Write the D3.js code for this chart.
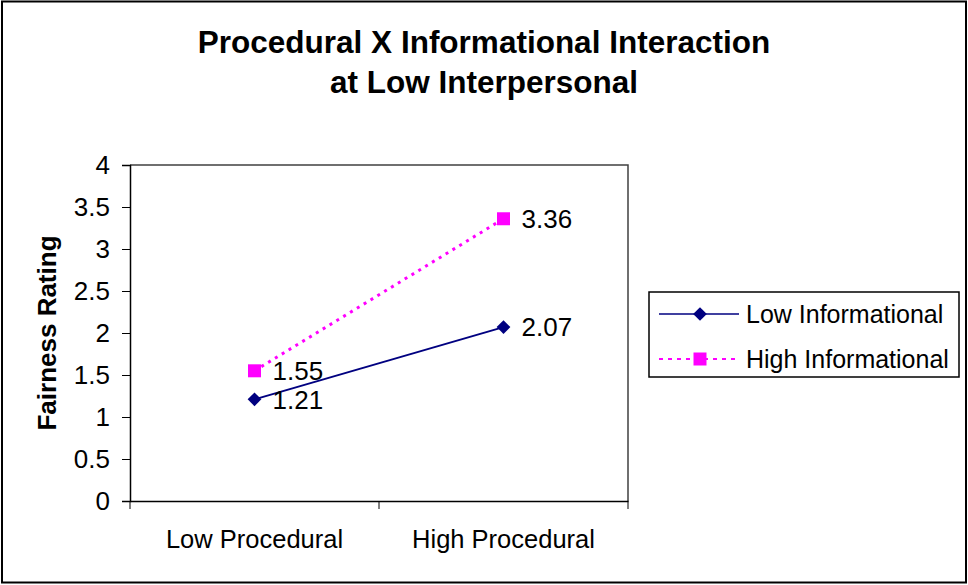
<!DOCTYPE html>
<html>
<head>
<meta charset="utf-8">
<script src="https://cdn.jsdelivr.net/npm/d3@7"></script>
<style>
  body { margin: 0; background: #fff; }
  text { font-family: "Liberation Sans", Arial, sans-serif; fill: #000; }
</style>
</head>
<body>
<svg class="chart"></svg>
<script>
// chart data
var categories = ['Low Procedural', 'High Procedural'];
var lowInformational = [1.21, 2.07];
var highInformational = [1.55, 3.36];
var yTicks = [0, 0.5, 1, 1.5, 2, 2.5, 3, 3.5, 4];

var series = [
    { name: 'Low Informational', values: lowInformational, color: '#000080', dash: null, marker: 'diamond' },
    { name: 'High Informational', values: highInformational, color: '#ff00ff', dash: '3,5', marker: 'square' }
];

var W = 968, H = 585;
var plot = { left: 130, top: 165, right: 628, bottom: 501 };
var fontFamily = '"Liberation Sans", Arial, sans-serif';

var svg = d3.select('.chart').attr('width', W).attr('height', H);

// outer chart border
svg.append('rect')
    .attr('x', 2).attr('y', 1.5)
    .attr('width', W - 4).attr('height', H - 4)
    .attr('fill', '#fff').attr('stroke', '#000').attr('stroke-width', 2);

// title
svg.append('text').attr('x', 484).attr('y', 53).attr('text-anchor', 'middle')
    .style('font-size', '31.5px').style('font-weight', 'bold')
    .text('Procedural X Informational Interaction');
svg.append('text').attr('x', 484).attr('y', 93).attr('text-anchor', 'middle')
    .style('font-size', '31.5px').style('font-weight', 'bold')
    .text('at Low Interpersonal');

// scales
var x = d3.scaleBand().domain(categories).range([plot.left, plot.right]);
var y = d3.scaleLinear().domain([0, 4]).range([plot.bottom, plot.top]);

// plot area border (top and right)
svg.append('path')
    .attr('d', 'M' + plot.left + ',' + plot.top + 'H' + plot.right + 'V' + plot.bottom)
    .attr('fill', 'none').attr('stroke', '#404040').attr('stroke-width', 1.5);

// y axis
var yAxis = d3.axisLeft(y).tickValues(yTicks).tickSize(8).tickPadding(12)
    .tickFormat(function (d) { return d3.format('')(d); });
var gy = svg.append('g').attr('transform', 'translate(' + plot.left + ',0)').call(yAxis);
gy.select('.domain').attr('stroke', '#000').attr('stroke-width', 1.5);
gy.selectAll('.tick line').attr('stroke', '#000');
gy.selectAll('.tick text').style('font-size', '26px').style('font-family', fontFamily);

// x axis with category divider ticks
var xAxis = d3.axisBottom(x).tickSize(0).tickPadding(29);
var gx = svg.append('g').attr('transform', 'translate(0,' + plot.bottom + ')').call(xAxis);
gx.select('.domain').attr('stroke', '#000').attr('stroke-width', 1.5);
gx.selectAll('.tick text').style('font-size', '25.5px').style('font-family', fontFamily);
var bounds = [x.range()[0]].concat(categories.map(function (c) { return x(c) + x.bandwidth(); }));
gx.selectAll('.divider').data(bounds).enter().append('line')
    .attr('x1', function (d) { return d; }).attr('x2', function (d) { return d; })
    .attr('y1', 0).attr('y2', 8)
    .attr('stroke', '#000');

// y axis title
svg.append('text')
    .attr('transform', 'translate(56,333) rotate(-90)')
    .attr('text-anchor', 'middle')
    .style('font-size', '26px').style('font-weight', 'bold')
    .text('Fairness Rating');

var cx = function (i) { return x(categories[i]) + x.bandwidth() / 2; };

var line = d3.line()
    .x(function (d, i) { return cx(i); })
    .y(function (d) { return y(d); });

var markerPath = function (m) {
    return m === 'diamond'
        ? d3.symbol().type(d3.symbolDiamond2).size(120)()
        : d3.symbol().type(d3.symbolSquare).size(169)();
};

series.forEach(function (s) {
    svg.append('path')
        .datum(s.values)
        .attr('d', line)
        .attr('fill', 'none')
        .attr('stroke', s.color)
        .attr('stroke-width', s.dash ? 3 : 2)
        .attr('stroke-dasharray', s.dash);

    svg.selectAll('.pt-' + s.marker).data(s.values).enter().append('path')
        .attr('d', markerPath(s.marker))
        .attr('transform', function (d, i) { return 'translate(' + cx(i) + ',' + y(d) + ')'; })
        .attr('fill', s.color);

    svg.selectAll('.lbl-' + s.marker).data(s.values).enter().append('text')
        .attr('x', function (d, i) { return cx(i) + 18; })
        .attr('y', function (d) { return y(d); })
        .attr('dy', '0.36em')
        .style('font-size', '26px')
        .text(function (d) { return d3.format('.2f')(d); });
});

// legend
var leg = svg.append('g').attr('transform', 'translate(649,292)');
leg.append('rect').attr('width', 310).attr('height', 85)
    .attr('fill', '#fff').attr('stroke', '#000').attr('stroke-width', 1.5);
var items = leg.selectAll('.item').data(series).enter().append('g')
    .attr('transform', function (d, i) { return 'translate(0,' + (22 + i * 45) + ')'; });
items.append('line')
    .attr('x1', 10).attr('x2', 90)
    .attr('stroke', function (d) { return d.color; })
    .attr('stroke-width', function (d) { return d.dash ? 2 : 1.5; })
    .attr('stroke-dasharray', function (d) { return d.dash ? '4,5' : null; });
items.append('path')
    .attr('d', function (d) { return markerPath(d.marker); })
    .attr('transform', 'translate(51,0)')
    .attr('fill', function (d) { return d.color; });
items.append('text')
    .attr('x', 97).attr('dy', '0.36em')
    .style('font-size', '25px')
    .text(function (d) { return d.name; });
</script>
</body>
</html>
